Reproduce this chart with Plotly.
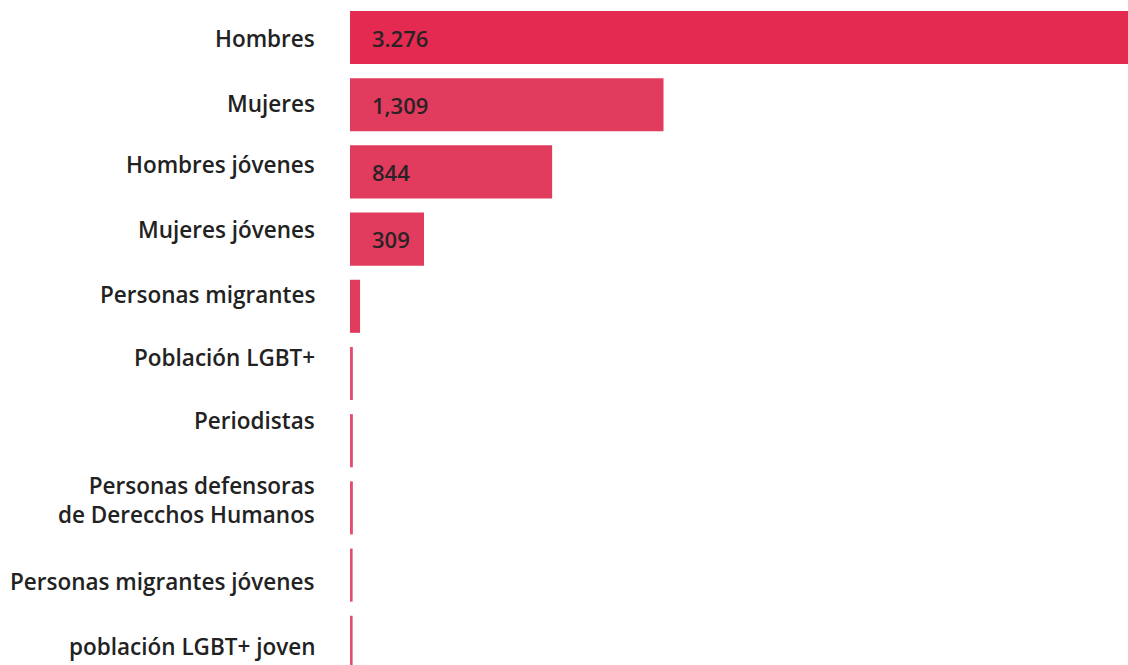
import plotly.graph_objects as go

# --- Data
categories = [
    "Hombres",
    "Mujeres",
    "Hombres jóvenes",
    "Mujeres jóvenes",
    "Personas migrantes",
    "Población LGBT+",
    "Periodistas",
    "Personas defensoras<br>de Derecchos Humanos",
    "Personas migrantes jóvenes",
    "población LGBT+ joven",
]
values = [3276, 1309, 844, 309, 42, 12, 12, 12, 11, 11]
value_labels = ["3.276", "1,309", "844", "309", "", "", "", "", "", ""]
bar_colors = ["#e42a50"] + ["#e13c5d"] * 4 + ["#e64d6c"] * 5

# labels in the original don't sit exactly on the bar centres (px, up = +)
label_nudge = [-1, 1, 7, 10, 12, 16, 20, 8, -6, -4]

W, H = 1128, 665
LEFT = 350
FONT = "Open Sans"

fig = go.Figure()

fig.add_trace(go.Bar(
    x=values, y=categories, orientation="h",
    marker=dict(color=bar_colors, line=dict(width=0)),
    width=0.79, hoverinfo="skip", showlegend=False,
))

# --- Category labels (right aligned, left of the bars)
for cat, dy in zip(categories, label_nudge):
    fig.add_annotation(
        x=0, xref="paper", y=cat, yref="y",
        text=cat, showarrow=False,
        xanchor="right", align="right",
        xshift=-33, yshift=dy,
        font=dict(family=FONT, size=22.5, color="#222222", weight=600),
    )

# --- Value labels inside the bars
for cat, lab in zip(categories, value_labels):
    if lab:
        fig.add_annotation(
            x=0, y=cat, text=lab, showarrow=False,
            xanchor="left", xshift=20, yshift=0,
            font=dict(family=FONT, size=22, color="#2a2226", weight=600),
        )

pitch = 67.2
top = -37.5 / pitch
bottom = top + H / pitch

fig.update_layout(
    width=W, height=H,
    margin=dict(l=LEFT, r=0, t=0, b=0),
    paper_bgcolor="white", plot_bgcolor="white",
    xaxis=dict(range=[0, 778 / 0.2395], visible=False, fixedrange=True),
    yaxis=dict(range=[bottom, top], showticklabels=False, showgrid=False,
               zeroline=False, showline=False, fixedrange=True),
    font=dict(family=FONT),
)

# page has a default 8px body margin; drop it so the figure sits at 0,0
fig.write_html(
    "out.html",
    config={"displayModeBar": False},
    post_script="document.body.style.margin='0';document.body.style.overflow='hidden';",
)
